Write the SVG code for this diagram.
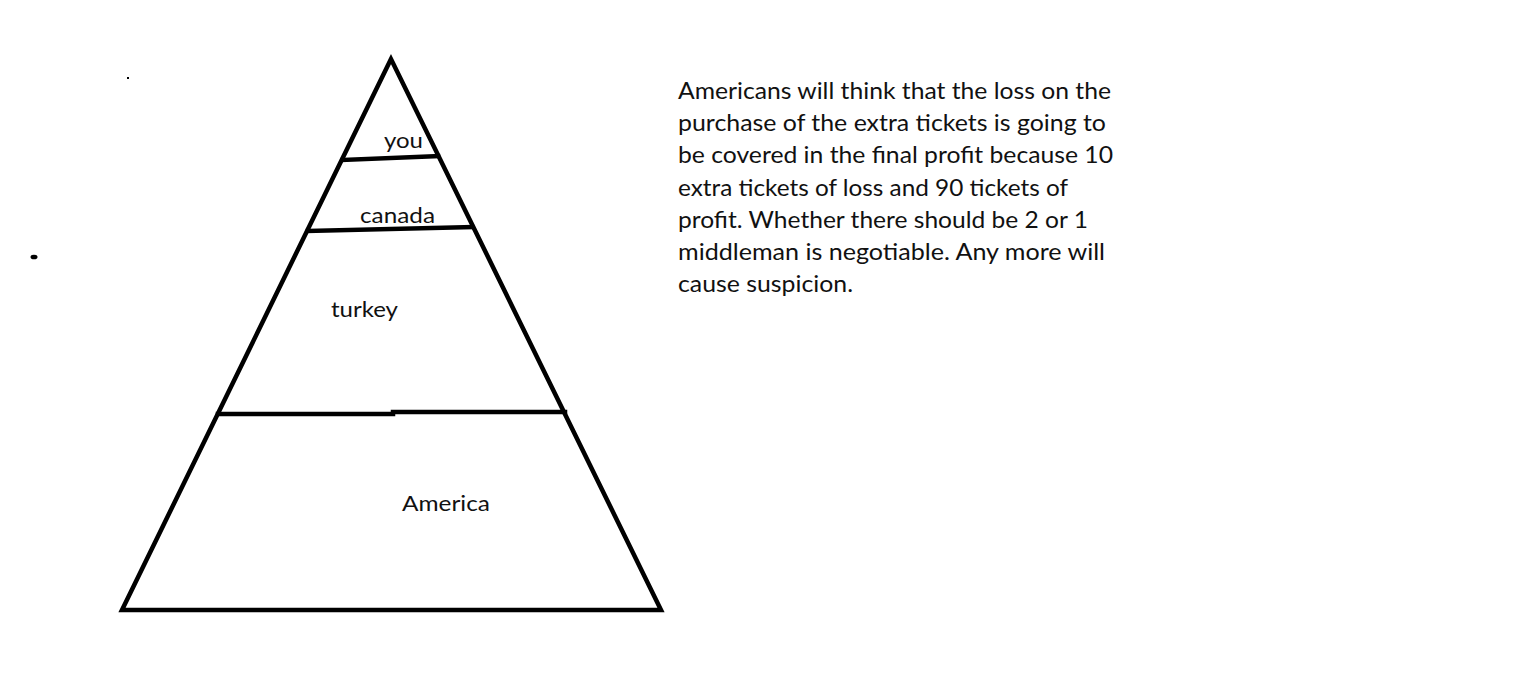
<svg xmlns="http://www.w3.org/2000/svg" width="1513" height="693" viewBox="0 0 1513 693">
<style>
.ln{stroke:#000;stroke-width:4.5;fill:none;stroke-linecap:square;stroke-linejoin:miter}
.lbl{font-family:Lato,"Open Sans","Liberation Sans",sans-serif;font-size:22px;fill:#111}
.para{font-family:Lato,"Open Sans","Liberation Sans",sans-serif;font-size:22.5px;fill:#111}
</style>
<rect width="1513" height="693" fill="#fff"/>
<g id="pyramid">
<polygon class="ln" points="391,59 122,610 661,610"/>
</g>
<g id="connectors">
<line class="ln" x1="343" y1="160" x2="438" y2="156"/>
<line class="ln" x1="308" y1="231" x2="472" y2="227"/>
<polyline class="ln" points="218,414 393,414 393,412 565,412"/>
</g>
<g id="tier-you"><text class="lbl" x="384" y="148" textLength="39" lengthAdjust="spacingAndGlyphs">you</text></g>
<g id="tier-canada"><text class="lbl" x="360" y="223" textLength="75" lengthAdjust="spacingAndGlyphs">canada</text></g>
<g id="tier-turkey"><text class="lbl" x="331" y="316.5" textLength="67" lengthAdjust="spacingAndGlyphs">turkey</text></g>
<g id="tier-america"><text class="lbl" x="402" y="511" textLength="88" lengthAdjust="spacingAndGlyphs">America</text></g>
<g id="note">
<text class="para" x="678" y="99" textLength="433" lengthAdjust="spacingAndGlyphs">Americans will think that the loss on the</text>
<text class="para" x="678" y="131.2" textLength="428" lengthAdjust="spacingAndGlyphs">purchase of the extra tickets is going to</text>
<text class="para" x="678" y="163.4" textLength="435" lengthAdjust="spacingAndGlyphs">be covered in the final profit because 10</text>
<text class="para" x="678" y="195.6" textLength="390" lengthAdjust="spacingAndGlyphs">extra tickets of loss and 90 tickets of</text>
<text class="para" x="678" y="227.8" textLength="410" lengthAdjust="spacingAndGlyphs">profit. Whether there should be 2 or 1</text>
<text class="para" x="678" y="260" textLength="427" lengthAdjust="spacingAndGlyphs">middleman is negotiable. Any more will</text>
<text class="para" x="678" y="292.2" textLength="175" lengthAdjust="spacingAndGlyphs">cause suspicion.</text>
</g>
<g id="dots">
<rect x="127" y="77" width="2" height="2" fill="#000"/>
<ellipse cx="34" cy="257" rx="3.5" ry="2.3" fill="#000"/>
</g>
</svg>
